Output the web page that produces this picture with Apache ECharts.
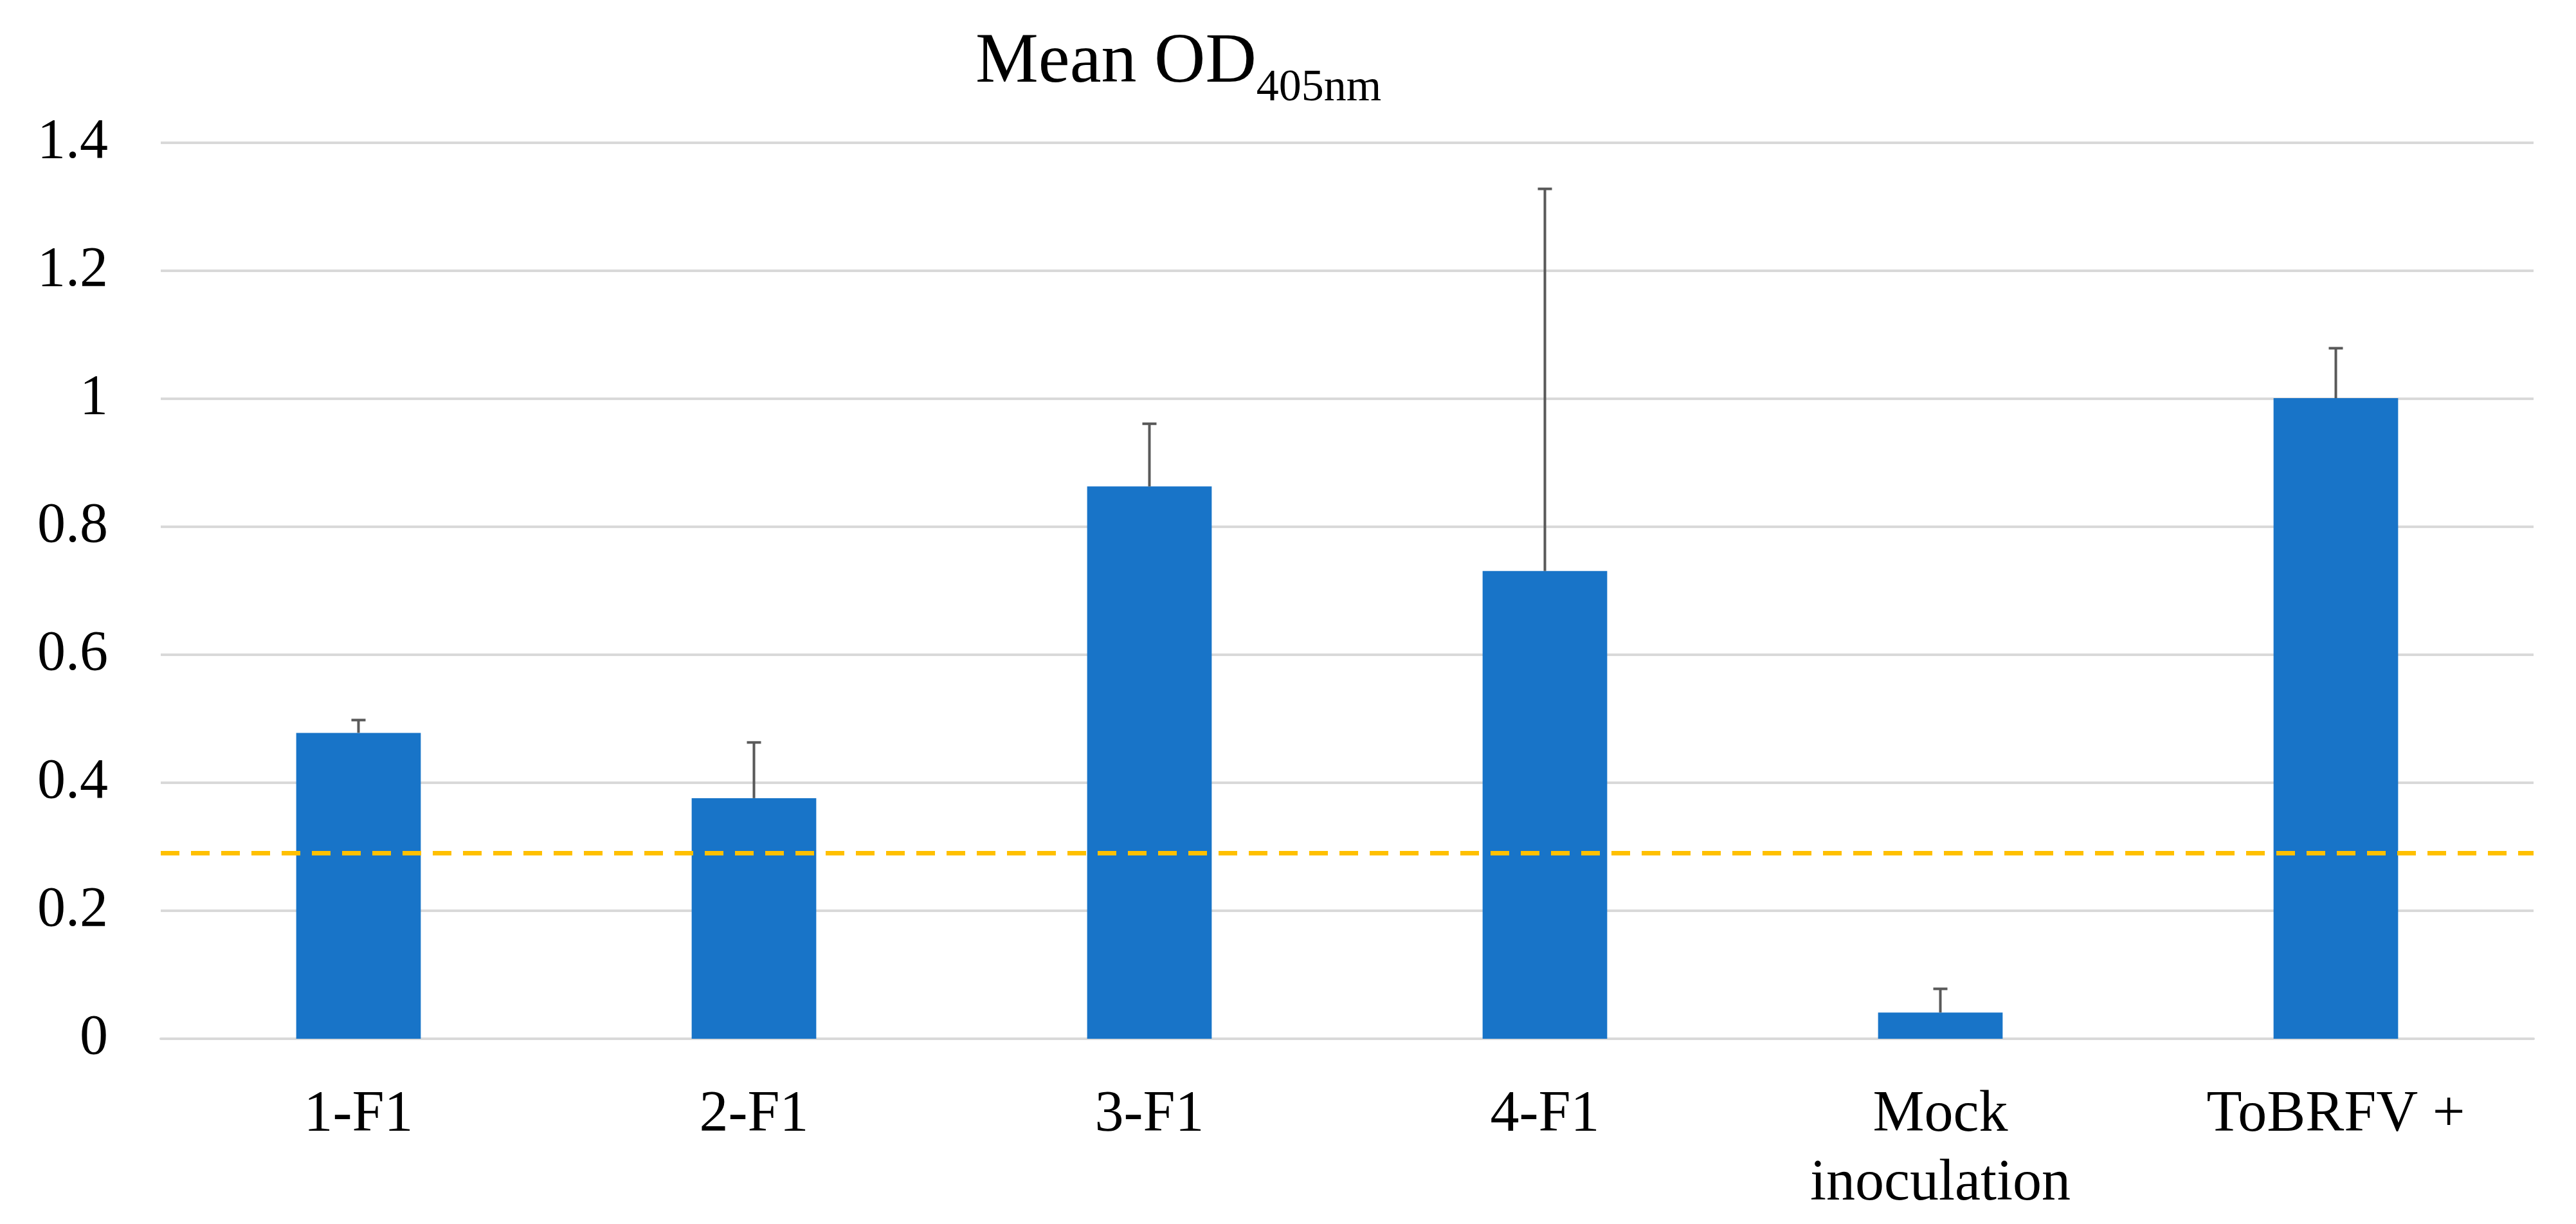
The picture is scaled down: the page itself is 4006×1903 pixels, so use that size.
<!DOCTYPE html>
<html>
<head>
<meta charset="utf-8">
<script src="https://cdn.jsdelivr.net/npm/echarts@6/dist/echarts.min.js"></script>
<style>
html,body{margin:0;padding:0;background:#fff;}
#chart{width:4006px;height:1903px;}
</style>
</head>
<body>
<div id="chart"></div>
<script>
// ---- data ----
var categories = ['1-F1', '2-F1', '3-F1', '4-F1', 'Mock\ninoculation', 'ToBRFV +'];
var meanOD = [0.478, 0.376, 0.863, 0.731, 0.041, 1.001];
var errorSD = [0.020, 0.087, 0.098, 0.597, 0.037, 0.078];
var cutoff = 0.293;
var yTicks = { min: 0, max: 1.4, interval: 0.2 };

var FONT = '"Liberation Serif", "Times New Roman", serif';
var chart = echarts.init(document.getElementById('chart'), null, { renderer: 'canvas' });

var errData = meanOD.map(function (v, i) { return [i, v, v + errorSD[i]]; });

var option = {
  backgroundColor: '#ffffff',
  animation: false,
  title: {
    text: '{a|Mean OD}{b|405nm}',
    left: 1512,
    top: 38,
    textStyle: {
      fontWeight: 'normal',
      rich: {
        a: { fontFamily: FONT, fontWeight: 'normal', fontSize: 110, lineHeight: 110, color: '#000', verticalAlign: 'top' },
        b: { fontFamily: FONT, fontWeight: 'normal', fontSize: 70, lineHeight: 70, color: '#000', verticalAlign: 'top', padding: [60, 0, 0, 0] }
      }
    }
  },
  grid: { left: 250, right: 66, top: 222, bottom: 288, containLabel: false },
  xAxis: {
    type: 'category',
    data: categories,
    axisLine: { show: true, lineStyle: { color: '#D9D9D9', width: 4 } },
    axisTick: { show: false },
    axisLabel: { fontFamily: FONT, fontSize: 90, color: '#000', margin: 66, lineHeight: 107, interval: 0 }
  },
  yAxis: {
    type: 'value',
    min: yTicks.min,
    max: yTicks.max,
    interval: yTicks.interval,
    axisLine: { show: false },
    axisTick: { show: false },
    splitLine: { show: true, lineStyle: { color: '#D9D9D9', width: 4 } },
    axisLabel: { fontFamily: FONT, fontSize: 88, color: '#000', margin: 82 }
  },
  series: [
    {
      type: 'bar',
      data: meanOD,
      barWidth: '31.5%',
      itemStyle: { color: '#1874C8' },
      markLine: {
        silent: true,
        symbol: 'none',
        label: { show: false },
        lineStyle: { color: '#FFC000', width: 7, type: [29, 18] },
        data: [{ yAxis: cutoff }]
      },
      z: 2
    },
    {
      type: 'custom',
      data: errData,
      z: 5,
      renderItem: function (params, api) {
        var base = api.coord([api.value(0), api.value(1)]);
        var top = api.coord([api.value(0), api.value(2)]);
        var half = 11;
        return {
          type: 'group',
          children: [
            { type: 'line', shape: { x1: base[0], y1: base[1], x2: top[0], y2: top[1] },
              style: { stroke: '#595959', lineWidth: 4 } },
            { type: 'line', shape: { x1: top[0] - half, y1: top[1], x2: top[0] + half, y2: top[1] },
              style: { stroke: '#595959', lineWidth: 4 } }
          ]
        };
      }
    }
  ]
};
chart.setOption(option);
</script>
</body>
</html>
